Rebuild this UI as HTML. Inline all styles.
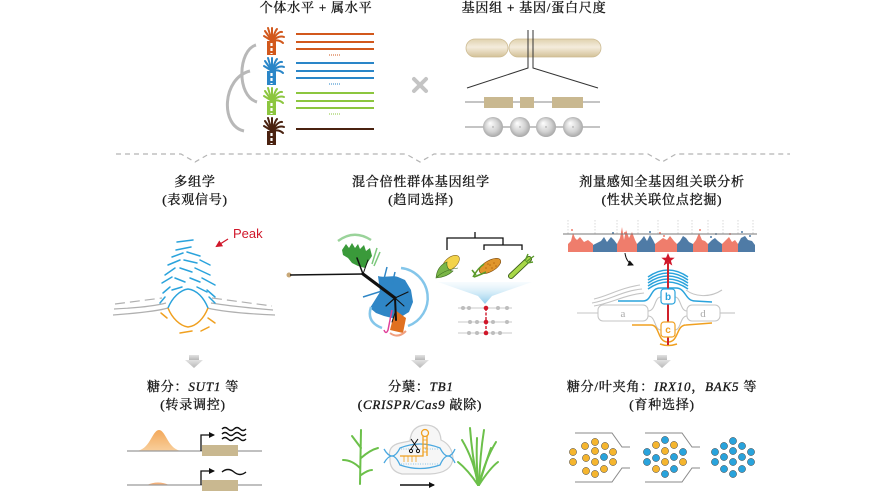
<!DOCTYPE html>
<html><head><meta charset="utf-8">
<style>
html,body{margin:0;padding:0;background:#fff;}
svg{display:block;}
.t{font-family:"Liberation Serif","Noto Serif CJK SC",serif;font-size:13px;fill:#1a1a1a;stroke:#1a1a1a;stroke-width:0.35px;letter-spacing:0.8px;}
.i{font-family:"Liberation Serif",serif;font-style:italic;}
</style></head>
<body>
<svg width="873" height="491" viewBox="0 0 873 491" xmlns="http://www.w3.org/2000/svg">
<defs>
  <linearGradient id="chrom" x1="0" y1="0" x2="0" y2="1">
    <stop offset="0" stop-color="#e0d2ae"/>
    <stop offset="0.45" stop-color="#f4ecdc"/>
    <stop offset="1" stop-color="#d3c197"/>
  </linearGradient>
  <radialGradient id="nuc" cx="0.5" cy="0.5" r="0.55" fx="0.35" fy="0.3">
    <stop offset="0" stop-color="#ffffff"/>
    <stop offset="0.6" stop-color="#d2d2d2"/>
    <stop offset="1" stop-color="#a0a0a0"/>
  </radialGradient>
  <linearGradient id="funnel" x1="0" y1="0" x2="0" y2="1">
    <stop offset="0" stop-color="#e6f4fb" stop-opacity="0.3"/>
    <stop offset="1" stop-color="#8ecbec"/>
  </linearGradient>
  <linearGradient id="garrow" x1="0" y1="0" x2="0" y2="1">
    <stop offset="0" stop-color="#e2e2e2"/>
    <stop offset="1" stop-color="#b8b8b8"/>
  </linearGradient>
  <linearGradient id="peak" x1="0" y1="0" x2="0" y2="1">
    <stop offset="0" stop-color="#f3a85a"/>
    <stop offset="1" stop-color="#f8cf9c"/>
  </linearGradient>
  <marker id="ah" markerWidth="6" markerHeight="6" refX="5" refY="3" orient="auto" markerUnits="userSpaceOnUse">
    <path d="M0,0 L6,3 L0,6 Z" fill="#111"/>
  </marker>
  <marker id="ahr" markerWidth="7" markerHeight="7" refX="5" refY="3.5" orient="auto" markerUnits="userSpaceOnUse">
    <path d="M0,0 L7,3.5 L0,7 Z" fill="#d0172a"/>
  </marker>
  <g id="cane">
    <g stroke="currentColor" stroke-width="2" stroke-linecap="round" fill="none">
      <path d="M9,13 L1,8"/><path d="M9,13 L2,3"/><path d="M9,13 L5,0"/>
      <path d="M9,13 L9,0"/><path d="M9,13 Q12,3 14,1"/><path d="M9,13 Q15,3 19,4"/>
      <path d="M9,13 Q16,7 21,9"/><path d="M9,13 Q16,11 20,15"/>
    </g>
    <rect x="4" y="13" width="9" height="14" fill="currentColor"/>
    <line x1="8.5" y1="15" x2="8.5" y2="26" stroke="#fff" stroke-width="2.2" stroke-dasharray="3,2"/>
  </g>
  <g id="arrowdn">
    <rect x="-5" y="0" width="10" height="5" fill="url(#garrow)"/>
    <path d="M-9,5 L9,5 L0,13 Z" fill="url(#garrow)"/>
  </g>
</defs>

<!-- ================= TOP ================= -->
<text class="t" x="316" y="12" text-anchor="middle">个体水平 + 属水平</text>
<text class="t" x="534" y="12" text-anchor="middle">基因组 + 基因/蛋白尺度</text>

<path d="M256,45 C238,50 236,96 257,102" stroke="#b8b8b8" stroke-width="3" fill="none"/>
<path d="M250,71 C222,78 220,126 244,131" stroke="#b8b8b8" stroke-width="3" fill="none"/>

<use href="#cane" x="263" y="28" style="color:#d2581c"/>
<use href="#cane" x="263" y="58" style="color:#2a86c8"/>
<use href="#cane" x="263" y="88" style="color:#8cc63f"/>
<use href="#cane" x="263" y="118" style="color:#4a2210"/>

<g stroke-width="2">
  <line x1="296" y1="34" x2="374" y2="34" stroke="#d2581c"/>
  <line x1="296" y1="42" x2="374" y2="42" stroke="#d2581c"/>
  <line x1="296" y1="49" x2="374" y2="49" stroke="#d2581c"/>
  <line x1="296" y1="63" x2="374" y2="63" stroke="#2a86c8"/>
  <line x1="296" y1="71" x2="374" y2="71" stroke="#2a86c8"/>
  <line x1="296" y1="78" x2="374" y2="78" stroke="#2a86c8"/>
  <line x1="296" y1="93" x2="374" y2="93" stroke="#8cc63f"/>
  <line x1="296" y1="101" x2="374" y2="101" stroke="#8cc63f"/>
  <line x1="296" y1="108" x2="374" y2="108" stroke="#8cc63f"/>
  <line x1="296" y1="129" x2="374" y2="129" stroke="#4a2210"/>
</g>
<g stroke-width="1" stroke-dasharray="1,1">
  <line x1="329" y1="55" x2="341" y2="55" stroke="#d2581c"/>
  <line x1="329" y1="84" x2="341" y2="84" stroke="#2a86c8"/>
  <line x1="329" y1="114" x2="341" y2="114" stroke="#8cc63f"/>
</g>

<g stroke="#c4c4c4" stroke-width="4" stroke-linecap="round">
  <line x1="414" y1="79" x2="426" y2="91"/>
  <line x1="426" y1="79" x2="414" y2="91"/>
</g>

<rect x="466" y="39" width="42" height="18" rx="9" fill="url(#chrom)" stroke="#cdbb92" stroke-width="0.8"/>
<rect x="509" y="39" width="92" height="18" rx="9" fill="url(#chrom)" stroke="#cdbb92" stroke-width="0.8"/>
<path d="M528,30 L528,68 L467,88" stroke="#333" stroke-width="1" fill="none"/>
<path d="M533,30 L533,68 L598,88" stroke="#333" stroke-width="1" fill="none"/>
<line x1="465" y1="102" x2="600" y2="102" stroke="#8a8a8a" stroke-width="1"/>
<rect x="484" y="97" width="29" height="11" fill="#c9b890"/>
<rect x="520" y="97" width="14" height="11" fill="#c9b890"/>
<rect x="552" y="97" width="31" height="11" fill="#c9b890"/>
<line x1="465" y1="127" x2="600" y2="127" stroke="#8a8a8a" stroke-width="1"/>
<g>
  <circle cx="493" cy="127" r="10" fill="url(#nuc)"/>
  <circle cx="520" cy="127" r="10" fill="url(#nuc)"/>
  <circle cx="546" cy="127" r="10" fill="url(#nuc)"/>
  <circle cx="573" cy="127" r="10" fill="url(#nuc)"/>
  <g fill="#999"><circle cx="493" cy="127" r="0.7"/><circle cx="520" cy="127" r="0.7"/><circle cx="546" cy="127" r="0.7"/><circle cx="573" cy="127" r="0.7"/></g>
</g>

<path d="M116,154 H181 L195,162 L209,154 H406 L420,162 L434,154 H648 L662,162 L676,154 H790" stroke="#b4b4b4" stroke-width="1.2" fill="none" stroke-dasharray="5,4"/>

<!-- ================= MIDDLE TITLES ================= -->
<text class="t" x="195" y="186" text-anchor="middle">多组学</text>
<text class="t" x="195" y="204" text-anchor="middle">(表观信号)</text>
<text class="t" x="421" y="186" text-anchor="middle">混合倍性群体基因组学</text>
<text class="t" x="421" y="204" text-anchor="middle">(趋同选择)</text>
<text class="t" x="662" y="186" text-anchor="middle">剂量感知全基因组关联分析</text>
<text class="t" x="662" y="204" text-anchor="middle">(性状关联位点挖掘)</text>

<!-- ================= COL 1 GRAPHIC ================= -->
<text x="233" y="238" font-family="Liberation Sans, sans-serif" font-size="13" fill="#d0172a">Peak</text>
<line x1="228" y1="239" x2="217" y2="246" stroke="#d0172a" stroke-width="1.3" marker-end="url(#ahr)"/>

<g stroke="#b0b0b0" stroke-width="1.2" fill="none">
  <path d="M115,304 L162,298" stroke-dasharray="10,5"/>
  <path d="M114,309 C135,308 155,306 166,303"/>
  <path d="M113,315 C140,313 158,311 168,308"/>
  <path d="M212,298 L272,306" stroke-dasharray="10,5"/>
  <path d="M211,303 C230,306 250,308 273,310"/>
  <path d="M207,308 C225,312 250,314 275,315"/>
</g>
<g stroke="#2aa3dc" stroke-width="1.5" stroke-linecap="round">
  <line x1="177" y1="242" x2="193" y2="240"/>
  <line x1="176" y1="250" x2="191" y2="247"/>
  <line x1="172" y1="257" x2="183" y2="253"/>
  <line x1="187" y1="252" x2="200" y2="256"/>
  <line x1="168" y1="265" x2="180" y2="260"/>
  <line x1="184" y1="260" x2="197" y2="263"/>
  <line x1="200" y1="260" x2="210" y2="265"/>
  <line x1="165" y1="275" x2="175" y2="268"/>
  <line x1="180" y1="268" x2="192" y2="272"/>
  <line x1="195" y1="268" x2="210" y2="275"/>
  <line x1="162" y1="283" x2="172" y2="277"/>
  <line x1="175" y1="278" x2="185" y2="282"/>
  <line x1="190" y1="278" x2="200" y2="282"/>
  <line x1="202" y1="278" x2="215" y2="285"/>
  <line x1="163" y1="293" x2="170" y2="287"/>
  <line x1="172" y1="290" x2="182" y2="287"/>
  <line x1="197" y1="287" x2="207" y2="292"/>
  <line x1="207" y1="290" x2="215" y2="297"/>
  <line x1="160" y1="303" x2="165" y2="297"/>
  <line x1="209" y1="297" x2="215" y2="303"/>
</g>
<path d="M168,308 C172,298 180,290 188,289 C197,290 204,298 208,308" stroke="#2aa3dc" stroke-width="1.5" fill="none"/>
<path d="M168,308 C172,318 180,326 188,327 C197,326 204,318 208,308" stroke="#f0a020" stroke-width="1.5" fill="none"/>
<g stroke="#f0a020" stroke-width="1.5" stroke-linecap="round">
  <line x1="161" y1="313" x2="167" y2="318"/>
  <line x1="180" y1="333" x2="192" y2="331"/>
  <line x1="208" y1="318" x2="215" y2="323"/>
  <line x1="201" y1="331" x2="209" y2="327"/>
</g>

<!-- ================= COL 2 GRAPHIC ================= -->
<path d="M338,241 Q354,229 371,240" stroke="#9ad39a" stroke-width="2.5" fill="none"/>
<path d="M342,250 L346,244 L349,248 L352,243 L355,248 L358,244 L360,249 L364,245 L366,251 L370,248 L372,256 L368,262 L365,268 L358,266 L352,263 L348,258 L343,255 Z" fill="#3a9a3a"/>
<g stroke="#7cc87c" stroke-width="1.5"><line x1="372" y1="264" x2="377" y2="248"/><line x1="374" y1="266" x2="380" y2="252"/></g>
<path d="M378,276 C385,278 392,275 398,277 L405,280 L411,290 L413,302 L409,312 L401,317 L392,318 L384,316 L376,313 L370,308 L375,300 L380,292 Z" fill="#2f86c6"/>
<g stroke="#2f86c6" stroke-width="1.5">
  <line x1="383" y1="283" x2="387" y2="267"/>
  <line x1="392" y1="285" x2="395" y2="272"/>
  <line x1="363" y1="297" x2="382" y2="291"/>
</g>
<path d="M401,268 A30,30 0 0 1 408,326" stroke="#84c6ea" stroke-width="2.5" fill="none"/>
<path d="M371,307 Q366,322 382,328" stroke="#84c6ea" stroke-width="2.5" fill="none"/>
<path d="M395,310 L406,318 L403,333 L390,330 Z" fill="#e07020"/>
<path d="M392,310 L388,330 Q386,335 384,330" stroke="#e0409a" stroke-width="1.5" fill="none"/>
<path d="M390,333 Q398,339 406,331" stroke="#f0a080" stroke-width="2" fill="none"/>
<circle cx="289" cy="275" r="2.5" fill="#c8a878"/>
<line x1="290" y1="275" x2="363" y2="274" stroke="#111" stroke-width="1.5"/>
<g stroke="#111" fill="none" stroke-linecap="round">
  <path d="M363,274 L395,298" stroke-width="3.2"/>
  <path d="M395,298 L396,320" stroke-width="2"/>
  <path d="M363,274 L357,258" stroke-width="1.5"/>
  <path d="M363,274 L368,260" stroke-width="1"/>
  <path d="M395,298 L408,292" stroke-width="1.2"/>
  <path d="M395,298 L386,306" stroke-width="1.2"/>
  <path d="M395,298 L404,306" stroke-width="1"/>
  <path d="M396,310 L392,322" stroke-width="1"/>
</g>

<g stroke="#111" stroke-width="1.3" fill="none">
  <path d="M475,232 L475,238"/>
  <path d="M447,250 L447,238 L503,238 L503,245"/>
  <path d="M484,250 L484,245 L522,245 L522,250"/>
</g>
<ellipse cx="451" cy="263" rx="10" ry="5.5" transform="rotate(-40 451 263)" fill="#f3d34a" stroke="#8a6a20" stroke-width="0.6"/>
<path d="M436,278 Q437,266 447,262 Q446,270 453,271 Q447,277 436,278 Z" fill="#7ab648" stroke="#3c6a20" stroke-width="0.6"/>
<path d="M437,277 Q444,270 458,268" stroke="#3c6a20" stroke-width="0.6" fill="none"/>
<ellipse cx="490" cy="266" rx="12" ry="5.5" transform="rotate(-30 490 266)" fill="#e0962c" stroke="#7a4a10" stroke-width="0.6"/>
<g fill="#b86a10"><circle cx="486" cy="268" r="0.8"/><circle cx="490" cy="265" r="0.8"/><circle cx="494" cy="263" r="0.8"/><circle cx="488" cy="264" r="0.8"/><circle cx="492" cy="268" r="0.8"/><circle cx="496" cy="266" r="0.8"/></g>
<path d="M473,277 Q478,268 484,264 M474,277 Q482,274 486,272 M476,275 L472,270" stroke="#5a9a2a" stroke-width="1.6" fill="none"/>
<line x1="511" y1="276" x2="529" y2="259" stroke="#3a5a1a" stroke-width="6" stroke-linecap="round"/>
<line x1="511" y1="276" x2="529" y2="259" stroke="#a8d848" stroke-width="4.2" stroke-linecap="round"/>
<path d="M526,262 L534,256 M527,263 L533,262 M525,261 L528,254" stroke="#5a9a2a" stroke-width="1.4" fill="none"/>
<path d="M438,282 L532,282 L492,296 L485,304 L478,296 Z" fill="url(#funnel)"/>
<g stroke="#c8c8c8" stroke-width="1">
  <line x1="458" y1="308" x2="512" y2="308"/>
  <line x1="458" y1="322" x2="512" y2="322"/>
  <line x1="458" y1="333" x2="512" y2="333"/>
</g>
<line x1="486" y1="308" x2="486" y2="333" stroke="#d0172a" stroke-width="1.4" stroke-dasharray="3,1.5"/>
<g fill="#bdbdbd">
  <circle cx="463" cy="308" r="2"/><circle cx="469" cy="308" r="2"/><circle cx="498" cy="308" r="2"/><circle cx="507" cy="308" r="2"/>
  <circle cx="470" cy="322" r="2"/><circle cx="477" cy="322" r="2"/><circle cx="493" cy="322" r="2"/><circle cx="507" cy="322" r="2"/>
  <circle cx="469" cy="333" r="2"/><circle cx="477" cy="333" r="2"/><circle cx="493" cy="333" r="2"/><circle cx="500" cy="333" r="2"/>
</g>
<g fill="#d0172a"><circle cx="486" cy="308" r="2.3"/><circle cx="486" cy="322" r="2.3"/><circle cx="486" cy="333" r="2.3"/></g>

<!-- ================= COL 3 GRAPHIC ================= -->
<g stroke="#cfcfcf" stroke-width="0.8" stroke-dasharray="1.5,1.5">
  <line x1="568" y1="220" x2="568" y2="234"/><line x1="595" y1="220" x2="595" y2="234"/>
  <line x1="617" y1="220" x2="617" y2="234"/><line x1="638" y1="220" x2="638" y2="234"/>
  <line x1="658" y1="220" x2="658" y2="234"/><line x1="678" y1="220" x2="678" y2="234"/>
  <line x1="692" y1="220" x2="692" y2="234"/><line x1="708" y1="220" x2="708" y2="234"/>
  <line x1="723" y1="220" x2="723" y2="234"/><line x1="738" y1="220" x2="738" y2="234"/>
  <line x1="753" y1="220" x2="753" y2="234"/>
</g>
<g>
  <path d="M568,252 L568,244 L571,241 L573,233 L575,238 L577,240 L580,237 L584,242 L588,240 L593,244 L593,252 Z" fill="#ef7d6c"/>
  <path d="M593,252 L593,245 L597,243 L601,241 L604,237 L607,242 L611,237 L614,240 L617,244 L617,252 Z" fill="#4f7ba6"/>
  <path d="M617,252 L617,244 L620,238 L622,227 L624,240 L626,230 L629,238 L632,232 L635,240 L637,244 L637,252 Z" fill="#ef7d6c"/>
  <path d="M637,252 L637,244 L641,240 L644,236 L647,241 L650,235 L653,240 L655,244 L655,252 Z" fill="#4f7ba6"/>
  <path d="M655,252 L655,244 L659,241 L663,238 L667,240 L670,236 L674,241 L677,244 L677,252 Z" fill="#ef7d6c"/>
  <path d="M677,252 L677,244 L680,241 L683,236 L686,238 L689,242 L693,244 L693,252 Z" fill="#4f7ba6"/>
  <path d="M693,252 L693,244 L696,240 L699,233 L702,240 L705,241 L708,244 L708,252 Z" fill="#ef7d6c"/>
  <path d="M708,252 L708,244 L712,240 L715,238 L718,241 L722,244 L722,252 Z" fill="#4f7ba6"/>
  <path d="M722,252 L722,244 L726,240 L729,237 L732,242 L735,240 L738,244 L738,252 Z" fill="#ef7d6c"/>
  <path d="M738,252 L738,244 L741,238 L745,236 L748,240 L752,241 L755,245 L755,252 Z" fill="#4f7ba6"/>
</g>
<g fill="#ef7d6c"><circle cx="572" cy="230" r="1"/><circle cx="625" cy="233" r="1"/><circle cx="660" cy="233" r="1"/><circle cx="664" cy="236" r="1"/><circle cx="700" cy="230" r="1"/><circle cx="730" cy="234" r="1"/></g>
<g fill="#4f7ba6"><circle cx="613" cy="233" r="1"/><circle cx="650" cy="232" r="1"/><circle cx="711" cy="237" r="1"/><circle cx="716" cy="234" r="1"/><circle cx="742" cy="232" r="1"/><circle cx="750" cy="236" r="1"/></g>
<line x1="563" y1="234" x2="757" y2="234" stroke="#777" stroke-width="1"/>
<path d="M625,253 Q626,262 633,265" stroke="#111" stroke-width="1" fill="none" marker-end="url(#ah)"/>

<g stroke="#c4c4c4" stroke-width="1.1" fill="none">
  <path d="M594,299 C608,296 620,288 640,285"/>
  <path d="M592,303 C610,300 622,291 642,289"/>
  <path d="M594,306 C612,303 624,295 644,293"/>
  <path d="M686,290 C695,297 710,298 722,290"/>
  <line x1="577" y1="313" x2="598" y2="313"/>
  <line x1="720" y1="313" x2="735" y2="313"/>
  <path d="M648,311 C656,311 654,297 661,297"/>
  <path d="M648,316 C656,316 654,330 661,330"/>
  <path d="M675,297 C681,297 680,311 687,311"/>
  <path d="M675,330 C681,330 680,316 687,316"/>
</g>
<rect x="598" y="305" width="50" height="16" rx="5" fill="#fff" stroke="#c4c4c4" stroke-width="1"/>
<rect x="687" y="305" width="33" height="16" rx="5" fill="#fff" stroke="#c4c4c4" stroke-width="1"/>
<text x="623" y="317" text-anchor="middle" font-family="Liberation Serif, serif" font-size="11" fill="#aaa">a</text>
<text x="703" y="317" text-anchor="middle" font-family="Liberation Serif, serif" font-size="11" fill="#aaa">d</text>
<g stroke="#2aa3dc" stroke-width="1.5" fill="none">
  <path d="M648,277 Q668,263 688,277"/>
  <path d="M648,280 Q668,266 688,280"/>
  <path d="M648,283 Q668,269 688,283"/>
  <path d="M648,286 Q668,272 688,286"/>
  <path d="M648,289 Q668,275 688,289"/>
  <path d="M618,301 L643,301 C652,301 650,288 660,288 L676,288 C686,288 685,301 695,301 L712,302"/>
</g>
<g stroke="#f0a020" stroke-width="1.5" fill="none">
  <path d="M632,325 L651,325 C660,325 657,342 668,342 C679,342 676,325 686,325 L712,323"/>
  <path d="M660,344 Q668,347 677,344"/>
</g>
<line x1="668" y1="263" x2="668" y2="345" stroke="#d0202a" stroke-width="2"/>
<rect x="661" y="289" width="14" height="15" rx="3" fill="#fff" stroke="#2aa3dc" stroke-width="1.2"/>
<text x="668" y="300" text-anchor="middle" font-family="Liberation Sans, sans-serif" font-weight="bold" font-size="10" fill="#2aa3dc">b</text>
<rect x="661" y="322" width="14" height="15" rx="3" fill="#fff" stroke="#f0a020" stroke-width="1.2"/>
<text x="668" y="333" text-anchor="middle" font-family="Liberation Sans, sans-serif" font-weight="bold" font-size="10" fill="#f0a020">c</text>
<polygon points="668,253 669.9,257.6 674.7,257.8 670.9,260.8 672.3,265.5 668,262.8 663.7,265.5 665.1,260.8 661.3,257.8 666.1,257.6" fill="#d0172a"/>

<!-- ================= BOTTOM ================= -->
<use href="#arrowdn" x="194" y="355"/>
<use href="#arrowdn" x="420" y="355"/>
<use href="#arrowdn" x="662" y="355"/>

<text class="t" x="193" y="391" text-anchor="middle">糖分：<tspan class="i">SUT1</tspan> 等</text>
<text class="t" x="193" y="409" text-anchor="middle">(转录调控)</text>
<text class="t" x="421" y="391" text-anchor="middle">分蘖：<tspan class="i">TB1</tspan></text>
<text class="t" x="420" y="409" text-anchor="middle">(<tspan class="i">CRISPR/Cas9</tspan> 敲除)</text>
<text class="t" x="662" y="391" text-anchor="middle">糖分/叶夹角：<tspan class="i">IRX10</tspan>，<tspan class="i">BAK5</tspan> 等</text>
<text class="t" x="662" y="409" text-anchor="middle">(育种选择)</text>

<path d="M135,451 C150,451 152,430 159,430 C166,430 168,451 183,451 Z" fill="url(#peak)"/>
<line x1="127" y1="451" x2="262" y2="451" stroke="#9a9a9a" stroke-width="1.2"/>
<rect x="202" y="445" width="36" height="11" fill="#c9b890"/>
<path d="M201,451 L201,435 L214,435" stroke="#111" stroke-width="1.3" fill="none" marker-end="url(#ah)"/>
<g stroke="#111" stroke-width="1.4" fill="none">
  <path d="M222,429 q3,-3 6,0 t6,0 t6,0 t6,0"/>
  <path d="M222,434 q3,-3 6,0 t6,0 t6,0 t6,0"/>
  <path d="M222,439 q3,-3 6,0 t6,0 t6,0 t6,0"/>
</g>
<path d="M147,485 Q158,480 169,485 Z" fill="#f3b07a"/>
<line x1="127" y1="485" x2="262" y2="485" stroke="#9a9a9a" stroke-width="1.2"/>
<rect x="202" y="480" width="36" height="11" fill="#c9b890"/>
<path d="M201,485 L201,471 L214,471" stroke="#111" stroke-width="1.3" fill="none" marker-end="url(#ah)"/>
<path d="M222,472 q6,-5 12,0 t12,0" stroke="#111" stroke-width="1.4" fill="none"/>

<g stroke="#6cc04a" stroke-width="2" fill="none" stroke-linecap="round">
  <path d="M360,484 L361,430"/>
  <path d="M360,468 Q352,460 343,460"/>
  <path d="M361,458 Q370,450 378,448"/>
  <path d="M361,448 Q355,440 352,436"/>
  <path d="M361,475 Q368,470 372,470"/>
</g>
<g stroke="#6cc04a" stroke-width="2" fill="none" stroke-linecap="round">
  <path d="M478,485 Q474,460 462,440"/>
  <path d="M478,485 Q472,455 470,428"/>
  <path d="M479,485 Q480,455 484,430"/>
  <path d="M479,485 Q485,460 496,442"/>
  <path d="M478,485 Q468,470 458,462"/>
  <path d="M479,485 Q490,468 498,462"/>
  <path d="M478,485 Q476,460 477,438"/>
  <path d="M479,485 Q486,462 491,448"/>
</g>
<path d="M390,458 Q387,446 400,443 L410,441 Q411,426 425,425 Q440,425 441,440 Q452,445 453,458 Q452,473 430,474 L402,474 Q389,471 390,458 Z" fill="#f6f6f6" stroke="#cfcfcf" stroke-width="1.2"/>
<g stroke="#4aa8e0" stroke-width="1.3" fill="none">
  <path d="M384,449 Q388,456 392,456 Q396,456 400,448 Q420,440 440,448 Q444,456 448,456 Q452,456 455,449"/>
  <path d="M384,463 Q388,456 392,456 Q396,456 400,465 Q420,472 440,465 Q444,456 448,456 Q452,456 455,463"/>
</g>
<g stroke="#4aa8e0" stroke-width="0.8" stroke-dasharray="0.8,1.6">
  <line x1="401" y1="449" x2="439" y2="449"/>
  <line x1="401" y1="464" x2="439" y2="464"/>
</g>
<g stroke="#f0a020" stroke-width="1.3" fill="none">
  <path d="M400,456 L423,456 L423,436"/>
  <path d="M427,456 L427,436"/>
  <circle cx="425" cy="433" r="3.5"/>
</g>
<g stroke="#f0a020" stroke-width="0.8">
  <line x1="423" y1="440" x2="427" y2="440"/><line x1="423" y1="444" x2="427" y2="444"/>
  <line x1="423" y1="448" x2="427" y2="448"/><line x1="423" y1="452" x2="427" y2="452"/>
  <line x1="404" y1="456" x2="404" y2="462"/><line x1="408" y1="456" x2="408" y2="462"/>
  <line x1="412" y1="456" x2="412" y2="462"/><line x1="416" y1="456" x2="416" y2="462"/>
</g>
<g stroke="#111" stroke-width="1" fill="none">
  <line x1="411" y1="439" x2="418" y2="449"/>
  <line x1="418" y1="439" x2="411" y2="449"/>
  <circle cx="411" cy="451" r="1.6"/>
  <circle cx="418" cy="451" r="1.6"/>
</g>
<line x1="400" y1="485" x2="434" y2="485" stroke="#111" stroke-width="1.4" marker-end="url(#ah)"/>

<g stroke="#8a8a8a" stroke-width="1" fill="none">
  <path d="M575,433 L612,433 L622,447 L630,447"/>
  <path d="M575,482 L612,482 L622,468 L630,468"/>
  <path d="M645,433 L682,433 L692,447 L700,447"/>
  <path d="M645,482 L682,482 L692,468 L700,468"/>
</g>
<g stroke="#444" stroke-width="0.5">
  <g fill="#f5b52e">
    <circle cx="595" cy="442" r="3.6"/><circle cx="585" cy="446" r="3.6"/><circle cx="605" cy="446" r="3.6"/>
    <circle cx="573" cy="452" r="3.6"/><circle cx="595" cy="451" r="3.6"/><circle cx="613" cy="452" r="3.6"/>
    <circle cx="586" cy="458" r="3.6"/>
    <circle cx="573" cy="462" r="3.6"/><circle cx="595" cy="462" r="3.6"/><circle cx="613" cy="462" r="3.6"/>
    <circle cx="586" cy="471" r="3.6"/><circle cx="604" cy="469" r="3.6"/><circle cx="595" cy="474" r="3.6"/>
  </g>
  <circle cx="604" cy="457" r="3.6" fill="#29a3dc"/>
  <g fill="#29a3dc">
    <circle cx="665" cy="440" r="3.6"/><circle cx="647" cy="452" r="3.6"/><circle cx="683" cy="452" r="3.6"/>
    <circle cx="656" cy="458" r="3.6"/><circle cx="674" cy="457" r="3.6"/><circle cx="647" cy="462" r="3.6"/>
    <circle cx="674" cy="469" r="3.6"/><circle cx="665" cy="474" r="3.6"/>
  </g>
  <g fill="#f5b52e">
    <circle cx="656" cy="445" r="3.6"/><circle cx="674" cy="445" r="3.6"/><circle cx="665" cy="451" r="3.6"/>
    <circle cx="665" cy="462" r="3.6"/><circle cx="683" cy="462" r="3.6"/><circle cx="656" cy="469" r="3.6"/>
  </g>
  <g fill="#29a3dc">
    <circle cx="733" cy="441" r="3.6"/><circle cx="724" cy="446" r="3.6"/><circle cx="742" cy="446" r="3.6"/>
    <circle cx="715" cy="452" r="3.6"/><circle cx="733" cy="451" r="3.6"/><circle cx="751" cy="452" r="3.6"/>
    <circle cx="724" cy="457" r="3.6"/><circle cx="742" cy="457" r="3.6"/>
    <circle cx="715" cy="462" r="3.6"/><circle cx="733" cy="462" r="3.6"/><circle cx="751" cy="462" r="3.6"/>
    <circle cx="724" cy="469" r="3.6"/><circle cx="742" cy="469" r="3.6"/><circle cx="733" cy="474" r="3.6"/>
  </g>
</g>
</svg>
</body></html>
